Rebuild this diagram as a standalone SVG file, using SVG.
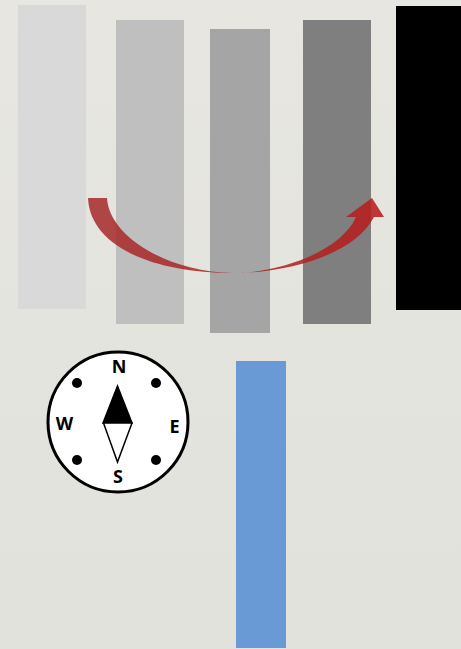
<svg xmlns="http://www.w3.org/2000/svg" width="461" height="649" viewBox="0 0 461 649">
<style>
.bar{stroke:none}
.lbl{font-family:"Open Sans","Liberation Sans",sans-serif;font-weight:700;font-size:18px;fill:#000;text-anchor:middle}
.dot{fill:#000}
</style>
<defs>
<linearGradient id="bg" x1="0" y1="0" x2="0" y2="1"><stop offset="0" stop-color="#e7e6e0"/><stop offset="1" stop-color="#e1e2dc"/></linearGradient>
<linearGradient id="red" gradientUnits="userSpaceOnUse" x1="88" y1="0" x2="384" y2="0">
<stop offset="0" stop-color="#a52a2a" stop-opacity=".85"/>
<stop offset="1" stop-color="#b81c1c" stop-opacity=".87"/>
</linearGradient>
</defs>
<rect width="461" height="649" fill="url(#bg)"/>
<g id="bar-1"><rect class="bar" x="18" y="5" width="68" height="304" fill="#d9d9d9"/></g>
<g id="bar-2"><rect class="bar" x="116" y="20" width="68" height="304" fill="#bfbfbf"/></g>
<g id="bar-3"><rect class="bar" x="210" y="29" width="60" height="304" fill="#a5a5a5"/></g>
<g id="bar-4"><rect class="bar" x="303" y="20" width="68" height="304" fill="#7f7f7f"/></g>
<g id="bar-5"><rect class="bar" x="396" y="6" width="65" height="304" fill="#000"/></g>
<g id="bar-blue"><rect class="bar" x="236" y="361" width="50" height="287" fill="#6a9ad6"/></g>
<g id="connectors">
<path id="curved-arrow" fill="url(#red)" d="M88 198H107C109 236 167 272 233 273C280 273 341 251 356 217H346L372 198L384 217H374C355 254 290 273 233 273C150 273 90 245 88 198Z"/>
</g>
<g id="compass">
<circle cx="118" cy="422" r="70" fill="#fff" stroke="#000" stroke-width="3"/>
<circle class="dot" cx="77" cy="383" r="5"/>
<circle class="dot" cx="156" cy="383" r="5"/>
<circle class="dot" cx="77" cy="460" r="5"/>
<circle class="dot" cx="156" cy="460" r="5"/>
<path d="M117.500 386L103 423H132Z" fill="#000" stroke="#000" stroke-width="1.500"/>
<path d="M103.500 423H132L117.500 462Z" fill="#fff" stroke="#000" stroke-width="1.500"/>
<text class="lbl" x="119" y="373">N</text>
<text class="lbl" x="118" y="483">S</text>
<text class="lbl" x="64.500" y="430">W</text>
<text class="lbl" x="174.500" y="433">E</text>
</g>
</svg>
